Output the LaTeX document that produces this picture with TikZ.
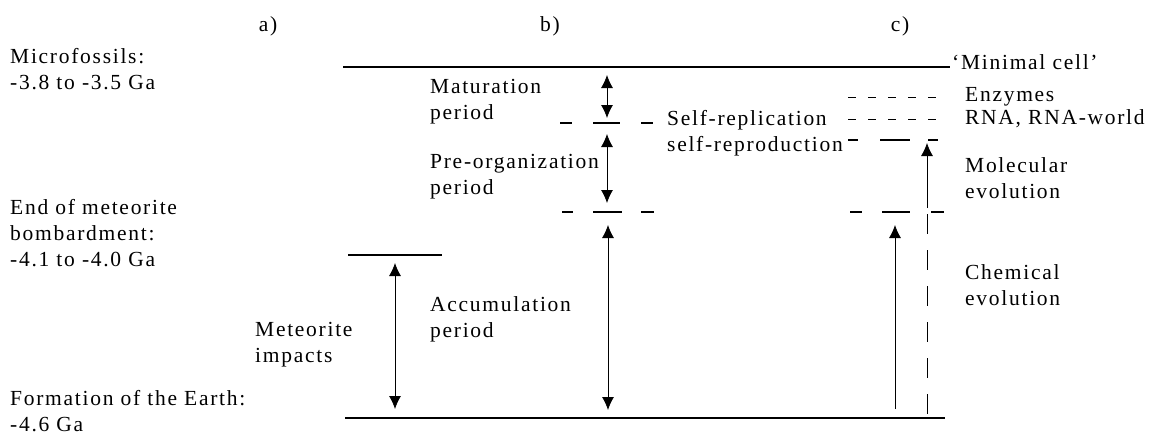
\documentclass[tikz,border=0pt]{standalone}
\usepackage{fontspec}
\setmainfont{Liberation Serif}[LetterSpace=8]
\usetikzlibrary{arrows.meta}
\begin{document}
\begin{tikzpicture}[x=1pt,y=-1pt,
  lbl/.style={anchor=west,align=left,inner sep=0pt,font=\fontsize{21.5}{26}\selectfont},
  hdr/.style={inner sep=0pt,font=\fontsize{21.5}{26}\selectfont},
  solidline/.style={line width=1.4pt},
  dline/.style={line width=1.3pt},
  vdash/.style={line width=1pt,dash pattern=on 20pt off 16pt},
  rowdash/.style={line width=1pt,dash pattern=on 8pt off 12pt},
  dbl/.style={line width=0.8pt,{Latex[length=13pt,width=12pt]}-{Latex[length=13pt,width=12pt]}},
  sgl/.style={line width=0.8pt,-{Latex[length=13pt,width=12pt]}},
]
\useasboundingbox (0,0) rectangle (1154,436);

% headers
\node[hdr] (ha) at (268,26) {a)};
\node[hdr] (hb) at (550,26) {b)};
\node[hdr] (hc) at (900,26) {c)};

% left labels
\node[lbl] (micro) at (10,69) {Microfossils:\\-3.8 to -3.5 Ga};
\node[lbl] (endmet) at (10,233) {End of meteorite\\bombardment:\\-4.1 to -4.0 Ga};
\node[lbl] (form) at (10,411) {Formation of the Earth:\\-4.6 Ga};

% middle labels
\node[lbl] (metimp) at (255,345) {Meteorite\\impacts};
\node[lbl] (accum) at (430,319) {Accumulation\\period};
\node[lbl] (matur) at (430,102) {Maturation\\period};
\node[lbl] (preorg) at (430,177) {Pre-organization\\period};
\node[lbl] (selfrep) at (667,133) {Self-replication\\self-reproduction};

% right labels
\node[lbl] (minimal) at (952,62) {`Minimal cell'};
\node[lbl] (enz) at (965,97) {Enzymes};
\node[lbl] (rna) at (965,119) {RNA, RNA-world};
\node[lbl] (molec) at (965,178) {Molecular\\evolution};
\node[lbl] (chem) at (965,285) {Chemical\\evolution};

% main horizontal lines
\coordinate (topL) at (343,67);
\coordinate (topR) at (950,67);
\coordinate (botL) at (345,418);
\coordinate (botR) at (945,418);
\coordinate (metL) at (348,255);
\coordinate (metR) at (442,255);
\draw[solidline] (topL) -- (topR);
\draw[solidline] (botL) -- (botR);
\draw[solidline] (metL) -- (metR);

% b) dashed rows
\coordinate (r1a) at (560,123); \coordinate (r1b) at (572,123);
\coordinate (r1c) at (593,123); \coordinate (r1d) at (620,123);
\coordinate (r1e) at (641,123); \coordinate (r1f) at (653,123);
\draw[dline] (r1a) -- (r1b);
\draw[dline] (r1c) -- (r1d);
\draw[dline] (r1e) -- (r1f);

\coordinate (r2a) at (562,212); \coordinate (r2b) at (573,212);
\coordinate (r2c) at (593,212); \coordinate (r2d) at (622,212);
\coordinate (r2e) at (641,212); \coordinate (r2f) at (654,212);
\draw[dline] (r2a) -- (r2b);
\draw[dline] (r2c) -- (r2d);
\draw[dline] (r2e) -- (r2f);

% c) dashed rows
\coordinate (ea) at (848,97); \coordinate (eb) at (940,97);
\coordinate (ra) at (848,119); \coordinate (rb) at (940,119);
\draw[rowdash] (ea) -- (eb);
\draw[rowdash] (ra) -- (rb);

\coordinate (m1a) at (848,140); \coordinate (m1b) at (858,140);
\coordinate (m1c) at (880,140); \coordinate (m1d) at (910,140);
\coordinate (m1e) at (928,140); \coordinate (m1f) at (938,140);
\draw[dline] (m1a) -- (m1b);
\draw[dline] (m1c) -- (m1d);
\draw[dline] (m1e) -- (m1f);

\coordinate (c2a) at (850,212); \coordinate (c2b) at (862,212);
\coordinate (c2c) at (882,212); \coordinate (c2d) at (910,212);
\coordinate (c2e) at (931,212); \coordinate (c2f) at (944,212);
\draw[dline] (c2a) -- (c2b);
\draw[dline] (c2c) -- (c2d);
\draw[dline] (c2e) -- (c2f);

% arrows
\coordinate (ma1) at (395,263); \coordinate (ma2) at (395,409);
\draw[dbl] (ma1) -- (ma2);

\coordinate (ac1) at (608,225); \coordinate (ac2) at (608,410);
\draw[dbl] (ac1) -- (ac2);

\coordinate (mt1) at (607,75); \coordinate (mt2) at (607,118);
\draw[dbl] (mt1) -- (mt2);

\coordinate (po1) at (607,134); \coordinate (po2) at (607,203);
\draw[dbl] (po1) -- (po2);

\coordinate (cu1) at (927,208); \coordinate (cu2) at (927,143);
\draw[sgl] (cu1) -- (cu2);

\coordinate (cl1) at (895,409); \coordinate (cl2) at (895,225);
\draw[sgl] (cl1) -- (cl2);

\coordinate (cv1) at (927,214); \coordinate (cv2) at (927,414);
\draw[vdash] (cv1) -- (cv2);

\end{tikzpicture}
\end{document}
